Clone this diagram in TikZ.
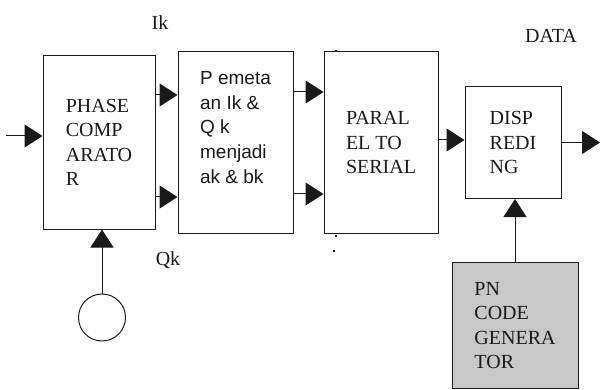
\documentclass[tikz,border=0pt]{standalone}
\usepackage{fontspec}
\setmainfont{Liberation Serif}
\setsansfont{Liberation Sans}
\usetikzlibrary{arrows.meta,positioning,calc}
\definecolor{Ink}{HTML}{1A1A1A}
\definecolor{Shade}{HTML}{C8C8C8}
\tikzset{
  blockbox/.style={draw=Ink,fill=white,line width=1pt,align=left,font=\fontsize{20}{24.5}\selectfont,text=Ink,inner sep=0pt},
  genbox/.style={blockbox,fill=Shade},
  sanstext/.style={align=left,font=\sffamily\fontsize{19}{24.75}\selectfont,text=Ink,inner sep=0pt},
  sigtext/.style={font=\fontsize{20}{24}\selectfont,text=Ink,inner sep=0pt},
  line/.style={-{Triangle[length=18pt,width=23pt]},draw=Ink,line width=1pt},
  speck/.style={fill=Ink,inner sep=0pt,minimum size=2pt}
}
\begin{document}
\begin{tikzpicture}[x=1pt,y=-1pt]
  \useasboundingbox (0,0) rectangle (602,390);
  \node[blockbox,minimum width=112pt,minimum height=173pt] (phase) at (99,142.5) {PHASE\\COMP\\ARATO\\R};
  \node[blockbox,minimum width=115pt,minimum height=182pt,right=22pt of phase] (map) {};
  \node[sanstext] (maptext) at ([yshift=15pt]map.center) {P emeta\\an Ik \&\\Q k\\menjadi\\ak \& bk};
  \node[blockbox,minimum width=114pt,minimum height=182pt,right=30pt of map] (paral) {PARAL\\EL TO\\SERIAL};
  \node[blockbox,minimum width=96pt,minimum height=112pt,right=26pt of paral] (disp) {DISP\\REDI\\NG};
  \node[genbox,minimum width=126pt,minimum height=126pt,below=63pt of disp,xshift=2pt] (pn) {PN\\CODE\\GENERA\\TOR};
  \node[draw=Ink,line width=1pt,circle,minimum size=47pt,inner sep=0pt,below=64pt of phase,xshift=3pt] (osc) {};

  \coordinate (in) at (6,136);
  \coordinate (out) at (600,142.5);
  \draw[line] (in) -- (in -| phase.west);
  \draw[line] ([yshift=47.5pt]phase.east) -- ([yshift=47.5pt]phase.east -| map.west);
  \draw[line] ([yshift=-54.5pt]phase.east) -- ([yshift=-54.5pt]phase.east -| map.west);
  \draw[line] ([yshift=50.5pt]map.east) -- ([yshift=50.5pt]map.east -| paral.west);
  \draw[line] ([yshift=-51.5pt]map.east) -- ([yshift=-51.5pt]map.east -| paral.west);
  \draw[line] ([yshift=2.5pt]paral.east) -- ([yshift=2.5pt]paral.east -| disp.west);
  \draw[line] (disp.east) -- (out);
  \draw[line] (pn.north) -- (pn.north |- disp.south);
  \draw[line] (osc.north) -- (osc.north |- phase.south);

  \node[sigtext] (ik) at (160,23) {Ik};
  \node[sigtext] (qk) at (168,260) {Qk};
  \node[sigtext] (data) at (551,36) {DATA};
  \foreach \x/\y [count=\i] in {336/51,336/236,334/251}
    \node[speck] (speck\i) at (\x,\y) {};
\end{tikzpicture}
\end{document}
